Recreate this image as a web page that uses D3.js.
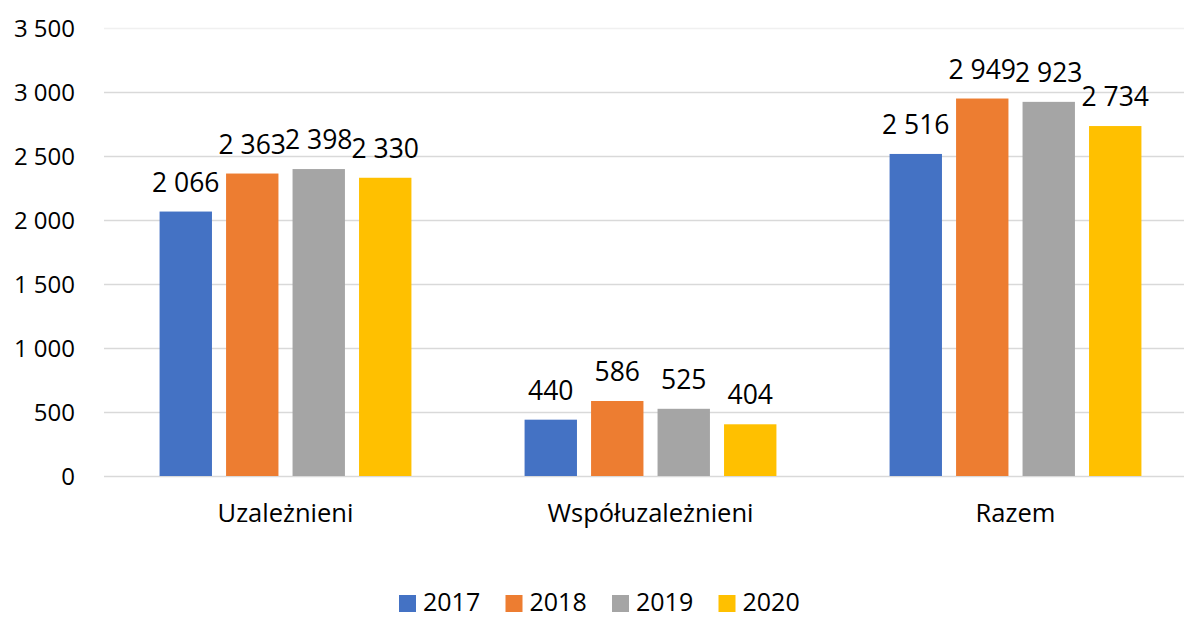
<!DOCTYPE html>
<html lang="pl">
	<head>
		<meta charset="utf-8" />
		<title>Uzależnieni</title>
		<script type="text/javascript" src="https://cdn.jsdelivr.net/npm/d3@7"></script>
		<style type="text/css">
			body { margin: 0; background: #fff; }
			svg text { font-family: "Open Sans", "Noto Sans", sans-serif; fill: #000; }
		</style>
	</head>
	<body>
		<script type="text/javascript">
			// data
			var categories = ["Uzależnieni", "Współuzależnieni", "Razem"];
			var years = ["2017", "2018", "2019", "2020"];
			var values2017 = [2066, 440, 2516];
			var values2018 = [2363, 586, 2949];
			var values2019 = [2398, 525, 2923];
			var values2020 = [2330, 404, 2734];
			var yTicks = [0, 500, 1000, 1500, 2000, 2500, 3000, 3500];
			var colors = ["#4472C4", "#ED7D31", "#A5A5A5", "#FFC000"];

			var series = [values2017, values2018, values2019, values2020];

			var w = 1184;
			var h = 619;

			var fmt = function(v) {
				return d3.format(",")(v).replace(/,/g, " ");
			};

			var svg = d3.select("body")
				.append("svg")
				.attr("width", w)
				.attr("height", h);

			var x0 = d3.scaleBand()
				.domain(categories)
				.range([103, 1198])
				.paddingInner(0.31)
				.paddingOuter(0.155);

			var x1 = d3.scaleBand()
				.domain(years)
				.range([0, x0.bandwidth()])
				.paddingInner(0.212);

			var yScale = d3.scaleLinear()
				.domain([0, 3500])
				.range([476, 28]);

			//gridlines
			svg.append("g")
				.selectAll("line")
				.data(yTicks)
				.enter()
				.append("line")
				.attr("x1", 104)
				.attr("x2", w)
				.attr("y1", function(d) { return Math.round(yScale(d)) + 0.5; })
				.attr("y2", function(d) { return Math.round(yScale(d)) + 0.5; })
				.attr("stroke", function(d) { return d === 3500 ? "#f0f0f0" : "#d9d9d9"; })
				.attr("stroke-width", 1.5);

			//y axis labels
			var yAxis = d3.axisLeft(yScale)
				.tickValues(yTicks)
				.tickFormat(fmt)
				.tickSize(0)
				.tickPadding(0);
			var yg = svg.append("g")
				.attr("transform", "translate(75,0)")
				.call(yAxis);
			yg.select(".domain").remove();
			yg.selectAll("text")
				.attr("font-size", 24)
				.attr("font-family", null)
				.attr("dy", "0.36em");

			//bars
			var groups = svg.append("g")
				.selectAll("g")
				.data(categories)
				.enter()
				.append("g")
				.attr("transform", function(d) { return "translate(" + x0(d) + ",0)"; });

			groups.selectAll("rect")
				.data(function(d, i) {
					return years.map(function(y, j) { return { year: y, value: series[j][i], k: j }; });
				})
				.enter()
				.append("rect")
				.attr("x", function(d) { return x1(d.year); })
				.attr("y", function(d) { return yScale(d.value); })
				.attr("width", x1.bandwidth())
				.attr("height", function(d) { return yScale(0) - yScale(d.value); })
				.attr("fill", function(d) { return colors[d.k]; });

			groups.selectAll("text.val")
				.data(function(d, i) {
					return years.map(function(y, j) { return { year: y, value: series[j][i] }; });
				})
				.enter()
				.append("text")
				.attr("class", "val")
				.attr("x", function(d) { return x1(d.year) + x1.bandwidth() / 2; })
				.attr("y", function(d) { return yScale(d.value) - 20; })
				.attr("text-anchor", "middle")
				.attr("font-size", 26.5)
				.text(function(d) { return fmt(d.value); });

			//x axis labels
			var xAxis = d3.axisBottom(x0).tickSize(0).tickPadding(0);
			var xg = svg.append("g")
				.attr("transform", "translate(0,522)")
				.call(xAxis);
			xg.select(".domain").remove();
			xg.selectAll("text")
				.attr("font-size", 25.5)
				.attr("font-family", null)
				.attr("dy", 0);

			//legend
			var legend = svg.append("g")
				.selectAll("g")
				.data(years)
				.enter()
				.append("g")
				.attr("transform", function(d, i) { return "translate(" + (399 + i * 106.5) + ",0)"; });
			legend.append("rect")
				.attr("y", 595)
				.attr("width", 17)
				.attr("height", 17)
				.attr("fill", function(d, i) { return colors[i]; });
			legend.append("text")
				.attr("x", 24)
				.attr("y", 611)
				.attr("font-size", 25)
				.text(function(d) { return d; });
		</script>
	</body>
</html>
